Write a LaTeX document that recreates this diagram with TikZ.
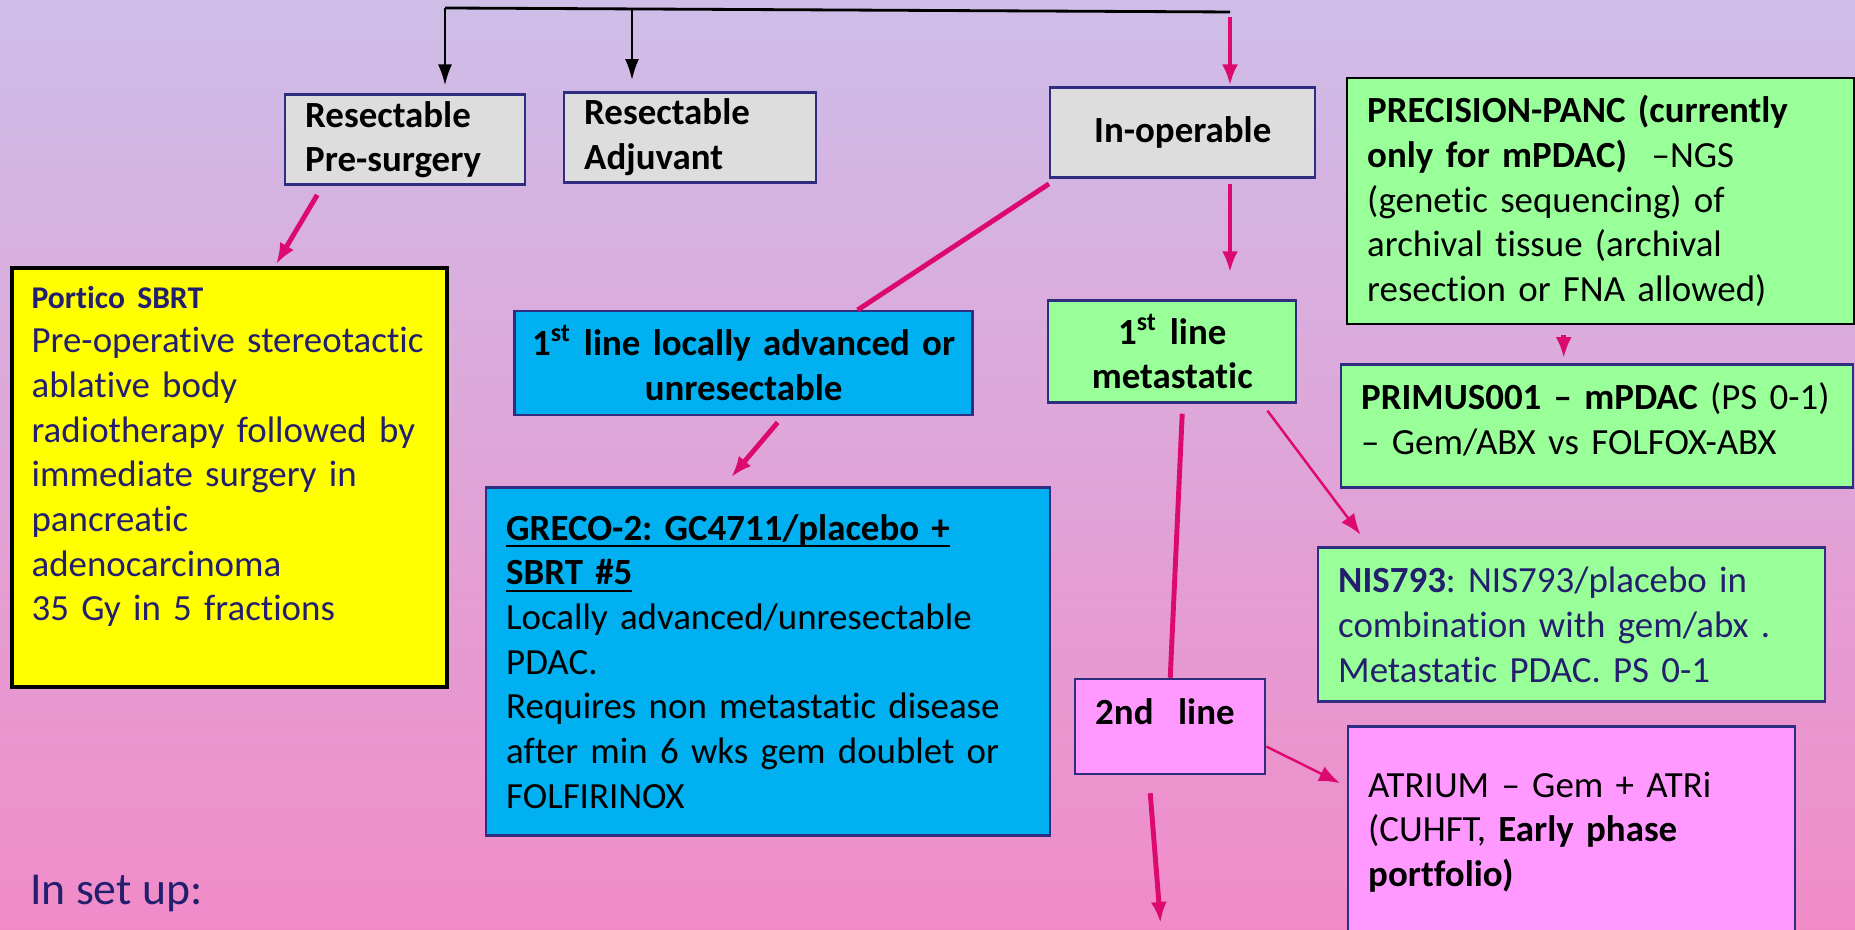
\documentclass[tikz,border=0pt]{standalone}
\usepackage{fontspec}
\setmainfont[Ligatures=CommonOff]{Carlito}
\usetikzlibrary{arrows.meta}
\definecolor{bgtop}{RGB}{206,190,232}
\definecolor{bgbottom}{RGB}{241,139,200}
\definecolor{navyline}{RGB}{46,45,128}
\definecolor{navytext}{RGB}{35,31,110}
\definecolor{greybox}{RGB}{221,221,221}
\definecolor{greenbox}{RGB}{153,255,153}
\definecolor{bluebox}{RGB}{0,176,240}
\definecolor{yellowbox}{RGB}{255,255,0}
\definecolor{pinkbox}{RGB}{255,153,255}
\definecolor{arrowpink}{RGB}{220,10,110}
\newcommand{\ulbar}[1]{\leavevmode\setbox0\hbox{#1}\dp0=0pt\rlap{\rule[-1.9pt]{\wd0}{0.6pt}}\box0}
\frenchspacing

\begin{document}
\begin{tikzpicture}[
		box/.style={draw=navyline, line width=0.7pt, anchor=north west, inner xsep=0.2cm, inner ysep=0pt, align=left, font=\fontsize{10.5}{12.7}\selectfont},
		headbox/.style={box, font=\fontsize{10.5}{12.7}\selectfont\bfseries},
		pinkarrow/.style={draw=arrowpink, line width=1.4pt, -{Latex[length=2.1mm,width=1.6mm]}},
		thinarrow/.style={draw=arrowpink, line width=0.7pt, -{Latex[length=2.1mm,width=1.6mm]}},
		blackarrow/.style={draw=black, line width=0.7pt, -{Latex[length=2.1mm,width=1.4mm]}}
	]
		\useasboundingbox (0,0) rectangle (18.55,9.30);
		\clip (0,0) rectangle (18.55,9.30);
		\shade[top color=bgtop, bottom color=bgbottom] (0,0) rectangle (18.55,9.30);

		\node[headbox, fill=greybox, text width=2.00cm, minimum height=0.90cm] (pre) at (2.84,8.365) {Resectable\\Pre-surgery};
		\node[headbox, fill=greybox, text width=2.12cm, minimum height=0.90cm] (adj) at (5.63,8.389) {Resectable\\Adjuvant};
		\node[headbox, fill=greybox, text width=2.25cm, minimum height=0.90cm, align=center] (inop) at (10.49,8.436) {In-operable};
		\node[box, fill=greenbox, draw=black, text width=4.67cm, minimum height=2.46cm] (precision) at (13.46,8.531) {\textbf{PRECISION-PANC (currently}\\\textbf{only for mPDAC)}\ \ –NGS\\(genetic sequencing) of\\archival tissue (archival\\resection or FNA allowed)};

		\node[box, fill=yellowbox, draw=black, line width=1.2pt, text=navytext, text width=3.95cm, text height=0.40cm, text depth=3.79cm] (portico) at (0.095,6.638) {{\fontsize{9}{12}\selectfont\textbf{Portico SBRT}}\\Pre-operative stereotactic\\ablative body\\radiotherapy followed by\\immediate surgery in\\pancreatic\\adenocarcinoma\\35 Gy in 5 fractions};
		\node[headbox, fill=bluebox, inner xsep=0.05cm, text width=4.48cm, minimum height=1.04cm, align=center] (la1) at (5.134,6.200) {1\textsuperscript{st} line locally advanced or\\unresectable};
		\node[headbox, fill=greenbox, text width=2.08cm, minimum height=1.02cm, align=center] (met1) at (10.47,6.307) {1\textsuperscript{st} line\\metastatic};
		\node[box, fill=greenbox, text width=4.72cm, text height=0.45cm, text depth=0.78cm] (primus) at (13.40,5.668) {\textbf{PRIMUS001 – mPDAC} (PS 0-1)\\– Gem/ABX vs FOLFOX-ABX};

		\node[box, fill=bluebox, text width=5.24cm, minimum height=3.48cm] (greco) at (4.85,4.438) {\ulbar{\textbf{GRECO-2: GC4711/placebo +}}\\\ulbar{\textbf{SBRT \#5}}\\Locally advanced/unresectable\\PDAC.\\Requires non metastatic disease\\after min 6 wks gem doublet or\\FOLFIRINOX};
		\node[box, fill=greenbox, text=navytext, text width=4.67cm, minimum height=1.54cm] (nis) at (13.17,3.835) {\textbf{NIS793}: NIS793/placebo in\\combination with gem/abx .\\Metastatic PDAC. PS 0-1};
		\node[headbox, fill=pinkbox, text width=1.50cm, text height=0.45cm, text depth=0.50cm] (line2) at (10.74,2.522) {2nd\ \ line};
		\node[box, fill=pinkbox, text width=4.07cm, minimum height=2.11cm] (atrium) at (13.47,2.048) {ATRIUM – Gem + ATRi\\(CUHFT, \textbf{Early phase}\\\textbf{portfolio)}};

		\node[anchor=base west, inner sep=0pt, text=navytext, font=\fontsize{13}{15.6}\selectfont] (setup) at (0.296,0.25) {In set up:};

		\coordinate (split1) at (4.45,9.22);
		\coordinate (split2) at (6.32,9.20);
		\coordinate (split3) at (12.30,9.18);
		\coordinate (nextstep) at (11.605,0.07);

		\draw[line width=0.8pt] (split1) -- (split3);
		\draw[blackarrow, shorten >=0.08cm] (split1) -- (split1 |- pre.north);
		\draw[blackarrow, shorten >=0.11cm] (split2) -- (split2 |- adj.north);
		\draw[pinkarrow, shorten <=0.05cm, shorten >=0.01cm] (split3) -- (split3 |- inop.north);
		\draw[pinkarrow, shorten <=0.05cm, shorten >=0.27cm] (split3 |- inop.south) -- (split3 |- met1.north);

		\draw[pinkarrow] ([xshift=-0.88cm,yshift=-0.09cm]pre.south) -- ([xshift=0.47cm,yshift=0.02cm]portico.north);
		\draw[pinkarrow, -] ([yshift=-0.05cm]inop.south west) -- ([xshift=1.14cm]la1.north);
		\draw[pinkarrow] ([xshift=0.34cm,yshift=-0.06cm]la1.south) -- ([xshift=-0.37cm,yshift=0.09cm]greco.north);
		\draw[pinkarrow, shorten <=0.1cm, shorten >=0.05cm] ([xshift=-0.37cm]precision.south) -- ([xshift=-0.37cm]precision.south |- primus.north);
		\draw[thinarrow] ([xshift=-0.30cm,yshift=-0.07cm]met1.south east) -- ([xshift=0.435cm,yshift=0.118cm]nis.north west);
		\draw[pinkarrow, -] ([xshift=0.10cm,yshift=-0.10cm]met1.south) -- (line2.north);
		\draw[thinarrow] ([yshift=-0.20cm]line2.east) -- ([xshift=-0.07cm,yshift=-0.58cm]atrium.north west);
		\draw[pinkarrow] ([xshift=-0.20cm,yshift=-0.18cm]line2.south) -- (nextstep);
	\end{tikzpicture}
\end{document}
